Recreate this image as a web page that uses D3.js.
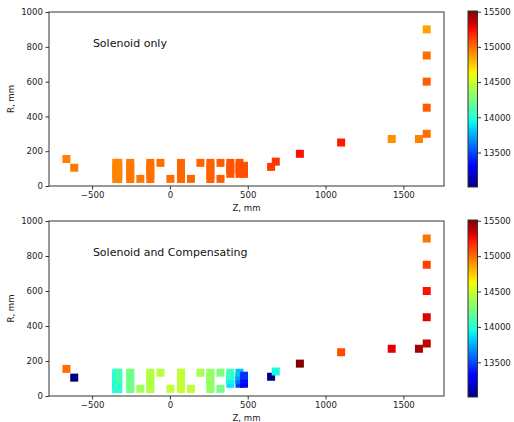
<!DOCTYPE html>
<html><head><meta charset="utf-8">
<script src="https://cdn.jsdelivr.net/npm/d3@7"></script>
<style>
html,body{margin:0;padding:0;background:#fff;}
svg{display:block;font-family:"DejaVu Sans",sans-serif;}
</style></head><body>
<svg id="chart" width="514" height="422"></svg>
<script>
// ---- data ----
const zVals = [-665,-615,
  -345,-345,-345,-345,-345,
  -332,-332,-332,-332,-332,
  -255,-255,-255,-255,-255,
  -190,
  -126,-126,-126,-126,-126,
  -61, 3,
  71,71,71,71,71,
  135, 196,
  260,260,260,260,260,
  325,325,
  388,388,388,388,
  447,447,447,447,
  476,476,476,
  650,680,835,1100,1425,1600,1650,1650,1650,1650,1650];
const rVals = [155,105,
  40,63,87,110,133,
  40,63,87,110,133,
  40,63,87,110,133,
  41,
  40,63,87,110,133,
  133,41,
  40,63,87,110,133,
  41,133,
  40,63,87,110,133,
  133,41,
  70,92,112,133,
  70,92,112,133,
  70,92,116,
  110,140,185,250,270,270,300,450,600,750,900];
const fieldSolenoid = [14950,14960,
  14930,14930,14930,14930,14930,
  14935,14935,14935,14935,14935,
  14970,14970,14970,14970,14970,
  14975,
  14990,14990,14990,14990,14990,
  14995,15000,
  15010,15010,15010,15010,15010,
  15015,15020,
  15030,15030,15030,15030,15030,
  15045,15045,
  15060,15060,15060,15060,
  15070,15070,15070,15070,
  15075,15075,15075,
  15130,15150,15240,15225,14900,14940,14990,15040,15040,14990,14860];
const fieldComp = [14990,13010,
  13940,13940,13950,13960,13960,
  14000,14030,14060,14080,14090,
  14230,14230,14230,14230,14230,
  14370,
  14430,14430,14430,14430,14430,
  14450,14480,
  14470,14470,14470,14470,14470,
  14460,14400,
  14330,14330,14330,14330,14330,
  14260,14240,
  13880,13920,13980,14060,
  13480,13600,13700,13790,
  13260,13350,13450,
  13030,13940,15510,15080,15300,15440,15380,15300,15240,15110,14980];
const panelTitles = ["Solenoid only","Solenoid and Compensating"];
const xTicks = [-500,0,500,1000,1500];
const yTicks = [0,200,400,600,800,1000];
const cbTicks = [13500,14000,14500,15000,15500];
const zDomain = [-777,1761];
const rDomain = [0,1000];
const fieldDomain = [13010,15510];

// ---- jet colormap ----
function seg(pts,t){
  for(let i=1;i<pts.length;i++){
    if(t<=pts[i][0]){const a=pts[i-1],b=pts[i];return a[1]+(b[1]-a[1])*(t-a[0])/(b[0]-a[0]);}
  }
  return pts[pts.length-1][1];
}
function jet(t){
  t=Math.max(0,Math.min(1,t));
  const r=seg([[0,0],[0.35,0],[0.66,1],[0.89,1],[1,0.5]],t);
  const g=seg([[0,0],[0.125,0],[0.375,1],[0.64,1],[0.91,0],[1,0]],t);
  const b=seg([[0,0.5],[0.11,1],[0.34,1],[0.65,0],[1,0]],t);
  return d3.rgb(r*255,g*255,b*255).formatHex();
}

const svg = d3.select("#chart");
const cnorm = d3.scaleLinear().domain(fieldDomain).range([0,1]).clamp(true);
const numFmt = d=>d<0?"\u2212"+Math.abs(d):String(d);

// gradient
const defs = svg.append("defs");
const grad = defs.append("linearGradient").attr("id","jetgrad")
  .attr("x1","0").attr("y1","1").attr("x2","0").attr("y2","0");
d3.range(0,1.0001,0.02).forEach(t=>{
  grad.append("stop").attr("offset",t).attr("stop-color",jet(t));
});

const panels = [
  {top:12, bottom:186, vals:fieldSolenoid, title:panelTitles[0]},
  {top:221, bottom:396, vals:fieldComp, title:panelTitles[1]}
];
const left=49, right=444;
const axisColor="#333";
const fs=8.6;

panels.forEach(p=>{
  const x=d3.scaleLinear().domain(zDomain).range([left,right]);
  const y=d3.scaleLinear().domain(rDomain).range([p.bottom,p.top]);
  const g=svg.append("g");
  // points
  const data=zVals.map((z,i)=>({z:z,r:rVals[i],v:p.vals[i]}));
  const ms=8;
  g.selectAll("rect.pt").data(data).enter().append("rect").attr("class","pt")
    .attr("x",d=>x(d.z)-ms/2).attr("y",d=>y(d.r)-ms/2)
    .attr("width",ms).attr("height",ms)
    .attr("fill",d=>jet(cnorm(d.v)));
  // frame
  g.append("rect").attr("x",left).attr("y",p.top).attr("width",right-left).attr("height",p.bottom-p.top)
    .attr("fill","none").attr("stroke",axisColor).attr("stroke-width",1);
  // axes
  const xa=g.append("g").attr("transform",`translate(0,${p.bottom})`)
    .call(d3.axisBottom(x).tickValues(xTicks).tickSize(3.5).tickPadding(2.5).tickFormat(numFmt));
  const ya=g.append("g").attr("transform",`translate(${left},0)`)
    .call(d3.axisLeft(y).tickValues(yTicks).tickSize(3.5).tickPadding(2.5).tickFormat(numFmt));
  [xa,ya].forEach(a=>{
    a.select(".domain").remove();
    a.selectAll("line").attr("stroke",axisColor);
    a.selectAll("text").attr("font-size",fs).attr("fill","#222").attr("font-family","DejaVu Sans");
  });
  g.append("text").attr("x",(left+right)/2).attr("y",p.bottom+25).attr("text-anchor","middle")
    .attr("font-size",fs).attr("fill","#222").text("Z, mm");
  g.append("text").attr("transform",`translate(14,${(p.top+p.bottom)/2}) rotate(-90)`)
    .attr("text-anchor","middle").attr("font-size",fs).attr("fill","#222").text("R, mm");
  g.append("text").attr("x",x(-495)).attr("y",y(798)).attr("font-size",11).attr("fill","#111")
    .text(p.title);
  // colorbar
  const cbx=468, cbw=9.5;
  const cy=d3.scaleLinear().domain(fieldDomain).range([p.bottom+1,p.top-1]);
  g.append("rect").attr("x",cbx).attr("y",p.top-1).attr("width",cbw).attr("height",p.bottom-p.top+2)
    .attr("fill","url(#jetgrad)").attr("stroke",axisColor).attr("stroke-width",1);
  const ca=g.append("g").attr("transform",`translate(${cbx+cbw},0)`)
    .call(d3.axisRight(cy).tickValues(cbTicks).tickSize(3.5).tickPadding(2.5).tickFormat(numFmt));
  ca.select(".domain").remove();
  ca.selectAll("line").attr("stroke",axisColor);
  ca.selectAll("text").attr("font-size",fs).attr("fill","#222").attr("font-family","DejaVu Sans");
});
</script>
</body></html>
